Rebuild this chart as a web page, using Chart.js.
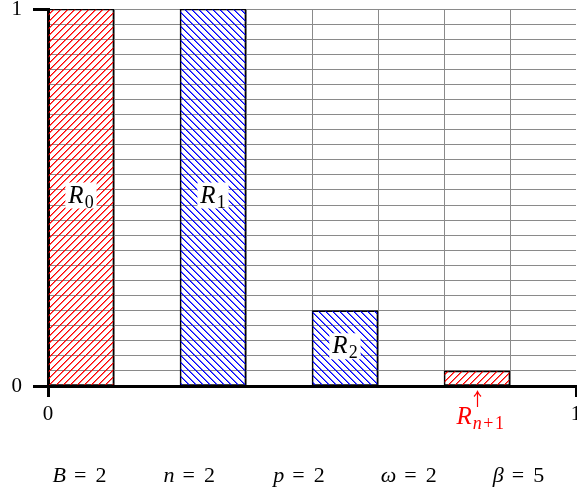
<!DOCTYPE html>
<html><head><meta charset="utf-8">
<script src="https://cdn.jsdelivr.net/npm/chart.js@4.4.0/dist/chart.umd.min.js"></script>
<style>html,body{margin:0;padding:0;background:#fff;overflow:hidden}canvas{display:block}
.pre{position:absolute;left:-999px;top:0;font-family:"Liberation Serif";}</style>
</head><body>
<span class="pre">0 1 R</span><span class="pre" style="font-style:italic">R n B ω β</span>
<canvas id="c" width="577" height="495"></canvas>
<script>
// ---- data ----
const barNames = ['R0', 'R1', 'R2', 'Rn+1'];
const barCenters = [0.0625, 0.3125, 0.5625, 0.8125];
const barHeights = [1, 1, 0.2, 0.04];
const barColors = ['#ff0000', '#0000ff', '#0000ff', '#ff0000'];
const hatchDirs = ['ne', 'nw', 'nw', 'ne'];
const labelSubs = [[['0', false]], [['1', false]], [['2', false]], [['n', true], ['+', false], ['1', false]]];
const labelInside = [true, true, true, false];
const xTickLabels = [0, 1];
const yTickLabels = [0, 1];
const paramSymbols = ['B', 'n', 'p', 'ω', 'β'];
const paramValues = [2, 2, 2, 2, 5];

const FONT = "'Liberation Serif', 'DejaVu Serif', serif";
const canvas = document.getElementById('c');
const ctx = canvas.getContext('2d');

function hatch(color, dir) {
  const s = 7, c = document.createElement('canvas');
  c.width = s; c.height = s;
  const g = c.getContext('2d');
  g.fillStyle = color;
  for (let i = 0; i < s; i++) {
    const y = dir === 'ne' ? s - 1 - i : i;
    g.globalAlpha = 1;
    g.fillRect(i, y, 1, 1);
    g.globalAlpha = 0.6;
    g.fillRect((i + 1) % s, y, 1, 1);
  }
  return ctx.createPattern(c, 'repeat');
}

function fontOf(p) { return (p.it ? 'italic ' : '') + p.size + 'px ' + FONT; }
function layoutMath(c, parts) {
  let w = 0;
  for (const p of parts) {
    if (p.gap) { p.w = p.gap; } else { c.font = fontOf(p); p.w = c.measureText(p.t).width + (p.kern || 0); }
    w += p.w;
  }
  return w;
}
function drawMath(c, parts, sx, y) {
  for (const p of parts) {
    if (!p.gap) { c.font = fontOf(p); c.fillText(p.t, sx, y + (p.dy || 0)); }
    sx += p.w;
  }
}
function labelParts(i) {
  const parts = [{ t: 'R', it: true, size: 25, kern: 1 }];
  for (const [t, it] of labelSubs[i]) parts.push({ t, it, size: 18, dy: 5, kern: labelSubs[i].length > 1 ? 1.5 : 0 });
  return parts;
}

const annot = {
  id: 'annot',
  afterDraw(chart) {
    const c = chart.ctx, x = chart.scales.x, y = chart.scales.y;
    c.save();
    c.textBaseline = 'alphabetic';
    barNames.forEach((name, i) => {
      const parts = labelParts(i);
      const w = layoutMath(c, parts);
      const cx = x.getPixelForValue(barCenters[i]);
      if (labelInside[i]) {
        const base = y.getPixelForValue(barHeights[i] / 2) + 5;
        const sx = cx - w / 2;
        c.fillStyle = '#fff';
        c.fillRect(sx - 3, base - 20, w + 6, 26);
        c.fillStyle = '#000';
        drawMath(c, parts, sx, base);
      } else {
        const y0 = y.getPixelForValue(0);
        const ax = Math.round(cx) + 0.5;
        c.strokeStyle = '#ff0000';
        c.lineWidth = 1.2;
        c.beginPath();
        c.moveTo(ax, y0 + 21); c.lineTo(ax, y0 + 6);
        c.moveTo(ax - 3.5, y0 + 10.5); c.quadraticCurveTo(ax - 1, y0 + 8, ax, y0 + 5.5);
        c.quadraticCurveTo(ax + 1, y0 + 8, ax + 3.5, y0 + 10.5);
        c.stroke();
        c.fillStyle = '#ff0000';
        drawMath(c, parts, cx - w / 2 + 4, y0 + 38);
      }
    });
    // parameter line
    c.fillStyle = '#000';
    const step = 109.75, first = 79.5;
    paramSymbols.forEach((s, i) => {
      const parts = [{ t: s, it: true, size: 22 }, { gap: 8 }, { t: '=', size: 22, kern: 2 }, { gap: 7 }, { t: String(paramValues[i]), size: 22 }];
      const w = layoutMath(c, parts);
      drawMath(c, parts, first + i * step - w / 2, 482);
    });
    c.restore();
  }
};

function build() {
  new Chart(ctx, {
    type: 'bar',
    data: {
      datasets: [{
        data: barCenters.map((v, i) => ({ x: v, y: barHeights[i] })),
        backgroundColor: barColors.map((col, i) => hatch(col, hatchDirs[i])),
        borderColor: '#000',
        borderWidth: 1,
        borderSkipped: false,
        barPercentage: 1,
        categoryPercentage: 1
      }]
    },
    options: {
      responsive: false,
      animation: false,
      devicePixelRatio: 1,
      layout: { padding: { top: 9, right: 1, bottom: 0, left: 0 } },
      plugins: { legend: { display: false }, tooltip: { enabled: false } },
      scales: {
        x: {
          type: 'linear', min: 0, max: 1, offset: false,
          ticks: {
            stepSize: 0.125, autoSkip: false, maxRotation: 0, minRotation: 0, padding: 5, color: '#000',
            font: { family: FONT, size: 21 },
            callback: v => xTickLabels.includes(v) ? String(v) : ''
          },
          grid: {
            offset: false, lineWidth: 1, tickLength: 11, tickWidth: 3,
            color: c => (c.tick && (c.tick.value === 0 || c.tick.value === 1)) ? 'rgba(0,0,0,0)' : '#8a8a8a',
            tickColor: c => (c.tick && xTickLabels.includes(c.tick.value)) ? '#000' : 'rgba(0,0,0,0)'
          },
          border: { color: '#000', width: 3 },
          afterFit: s => { s.height = 109; s.paddingLeft = 0; s.paddingRight = 0; }
        },
        y: {
          type: 'linear', min: 0, max: 1,
          ticks: {
            stepSize: 0.04, autoSkip: false, padding: 11, color: '#000',
            font: { family: FONT, size: 21 },
            callback: v => yTickLabels.includes(v) ? String(v) : ''
          },
          grid: {
            lineWidth: 1, tickLength: 15, tickWidth: 3,
            color: c => (c.tick && c.tick.value === 0) ? 'rgba(0,0,0,0)' : '#8a8a8a',
            tickColor: c => (c.tick && yTickLabels.includes(c.tick.value)) ? '#000' : 'rgba(0,0,0,0)'
          },
          border: { color: '#000', width: 3 },
          afterFit: s => { s.width = 48; s.paddingTop = 0; s.paddingBottom = 0; }
        }
      }
    },
    plugins: [annot]
  });
}

Promise.all([
  document.fonts.load("21px 'Liberation Serif'"),
  document.fonts.load("italic 21px 'Liberation Serif'")
]).catch(() => {}).then(build);
</script>
</body></html>
